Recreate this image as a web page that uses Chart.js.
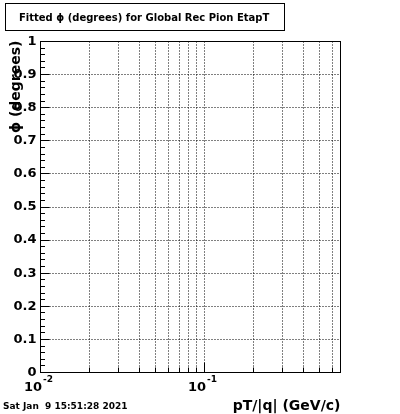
<!DOCTYPE html>
<html>
<head>
<meta charset="utf-8">
<script src="https://cdn.jsdelivr.net/npm/chart.js@4.4.1/dist/chart.umd.min.js"></script>
<style>
  html, body { margin: 0; padding: 0; background: #fff; overflow: hidden; }
  #wrap { position: relative; width: 400px; height: 414px; }
</style>
</head>
<body>
<div id="wrap"><canvas id="chart-phi" width="400" height="414"></canvas></div>
<script>
// ----- chart data (empty histogram, only axes) -----
const titleText = 'Fitted \u03d5 (degrees) for Global Rec Pion EtapT';
const xTitle = 'pT/|q| (GeV/c)';
const yTitle = '\u03d5 (degrees)';
const dateText = 'Sat Jan  9 15:51:28 2021';

const xRange = [0.01, 0.675];
const yRange = [0, 1];
const yTicks = [0, 0.1, 0.2, 0.3, 0.4, 0.5, 0.6, 0.7, 0.8, 0.9, 1];
const yTickLabels = ['0', '0.1', '0.2', '0.3', '0.4', '0.5', '0.6', '0.7', '0.8', '0.9', '1'];
const yMinorStep = 0.02;
const xMajor = [0.01, 0.1];
const xMajorBase = ['10', '10'];
const xMajorExp = ['-2', '-1'];
const xMinor = [0.02, 0.03, 0.04, 0.05, 0.06, 0.07, 0.08, 0.09, 0.2, 0.3, 0.4, 0.5, 0.6];
const phiValues = []; // no entries in the histogram

const FONT = '"DejaVu Sans", Arial, sans-serif';

// draws the ROOT-like frame, grid, ticks and labels from the chart scales
const rootAxes = {
    id: 'rootAxes',
    afterDraw(chart) {
        const ctx = chart.ctx;
        const xs = chart.scales.x, ys = chart.scales.y;
        const a = chart.chartArea;
        const L = Math.round(a.left) + 0.5, R = Math.round(a.right) + 0.5;
        const T = Math.round(a.top) + 0.5, B = Math.round(a.bottom) + 0.5;
        ctx.save();
        ctx.strokeStyle = '#000';
        ctx.lineWidth = 1;

        // dotted grid
        ctx.setLineDash([1, 2]);
        ctx.beginPath();
        yTicks.forEach(v => {
            if (v <= yRange[0] || v >= yRange[1]) return;
            const y = Math.round(ys.getPixelForValue(v)) + 0.5;
            ctx.moveTo(L, y); ctx.lineTo(R, y);
        });
        xMinor.concat(xMajor).forEach(v => {
            if (v <= xRange[0] || v >= xRange[1]) return;
            const x = Math.round(xs.getPixelForValue(v)) + 0.5;
            ctx.moveTo(x, B); ctx.lineTo(x, T);
        });
        ctx.stroke();
        ctx.setLineDash([]);

        // frame
        ctx.strokeRect(L, T, R - L, B - T);

        // y ticks (inside)
        ctx.beginPath();
        const n = Math.round((yRange[1] - yRange[0]) / yMinorStep);
        for (let i = 0; i <= n; i++) {
            const y = Math.round(ys.getPixelForValue(yRange[0] + i * yMinorStep)) + 0.5;
            const len = (i % 5 === 0) ? 9 : 4.5;
            ctx.moveTo(L, y); ctx.lineTo(L + len, y);
        }
        // x ticks (inside)
        xMinor.forEach(v => {
            const x = Math.round(xs.getPixelForValue(v)) + 0.5;
            ctx.moveTo(x, B); ctx.lineTo(x, B - 5);
        });
        xMajor.forEach(v => {
            const x = Math.round(xs.getPixelForValue(v)) + 0.5;
            ctx.moveTo(x, B); ctx.lineTo(x, B - 10);
        });
        ctx.stroke();

        ctx.fillStyle = '#000';
        // y tick labels
        ctx.font = 'bold 13px ' + FONT;
        ctx.textAlign = 'right';
        ctx.textBaseline = 'middle';
        yTicks.forEach((v, i) => {
            ctx.fillText(yTickLabels[i], L - 4, ys.getPixelForValue(v) + 0.5);
        });

        // x tick labels 10^n
        xMajor.forEach((v, i) => {
            const x = xs.getPixelForValue(v);
            ctx.font = 'bold 13px ' + FONT;
            ctx.textAlign = 'right';
            ctx.textBaseline = 'alphabetic';
            ctx.fillText(xMajorBase[i], x + 2, 391);
            ctx.font = 'bold 9px ' + FONT;
            ctx.textAlign = 'left';
            ctx.fillText(xMajorExp[i], x + 3, 382);
        });

        // axis titles
        ctx.font = 'bold 14px ' + FONT;
        ctx.textAlign = 'right';
        ctx.textBaseline = 'alphabetic';
        ctx.fillText(xTitle, R, 410);

        ctx.save();
        ctx.translate(20, T - 1);
        ctx.rotate(-Math.PI / 2);
        ctx.textAlign = 'right';
        ctx.fillText(yTitle, 0, 0);
        ctx.restore();

        // title box
        ctx.strokeRect(5.5, 3.5, 279, 27);
        ctx.font = 'bold 10px ' + FONT;
        ctx.textAlign = 'left';
        ctx.fillText(titleText, 19, 21);

        // date stamp
        ctx.font = 'bold 9px ' + FONT;
        ctx.fillText(dateText, 3, 409);
        ctx.restore();
    }
};

new Chart(document.getElementById('chart-phi').getContext('2d'), {
    type: 'scatter',
    data: {
        datasets: [{ label: yTitle, data: phiValues, pointRadius: 0 }]
    },
    options: {
        responsive: false,
        animation: false,
        events: [],
        layout: { padding: { left: 40, right: 60, top: 41, bottom: 42 } },
        scales: {
            x: { type: 'logarithmic', min: xRange[0], max: xRange[1], display: false },
            y: { type: 'linear', min: yRange[0], max: yRange[1], display: false }
        },
        plugins: {
            legend: { display: false },
            tooltip: { enabled: false },
            title: { display: false }
        }
    },
    plugins: [rootAxes]
});
</script>
</body>
</html>
